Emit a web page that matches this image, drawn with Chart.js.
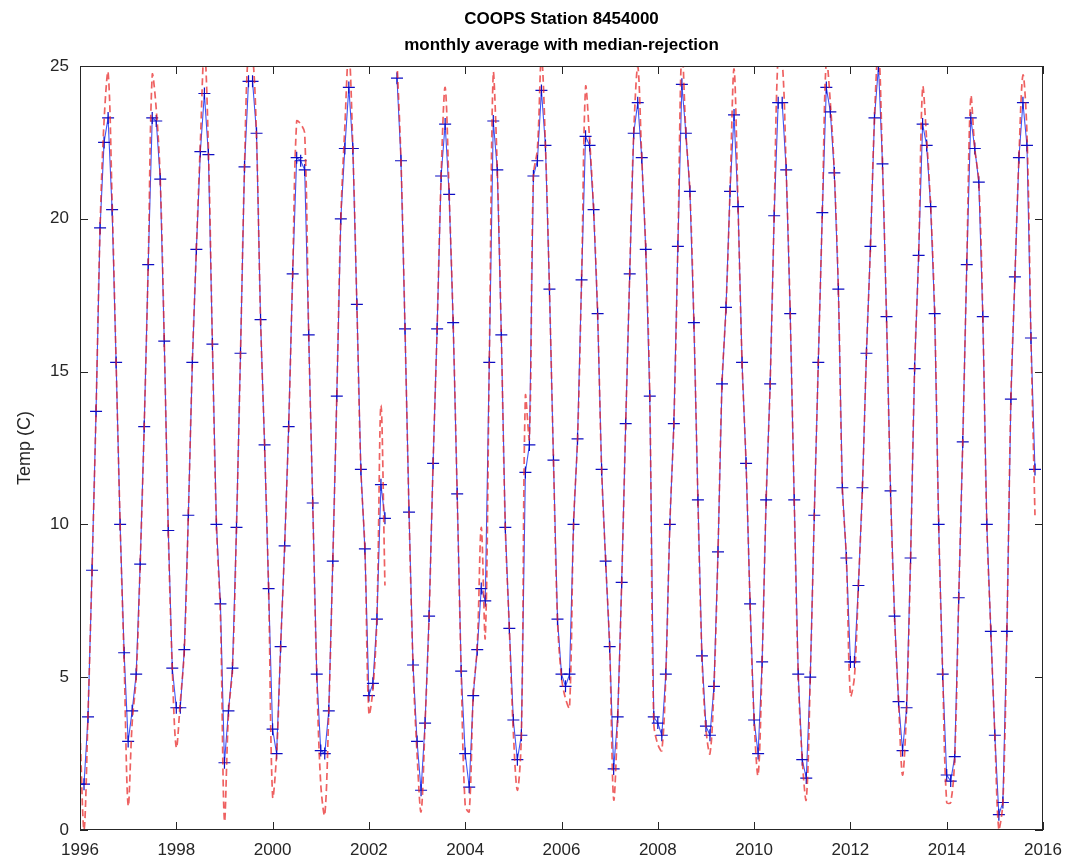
<!DOCTYPE html>
<html>
<head>
<meta charset="utf-8">
<script src="https://cdn.jsdelivr.net/npm/chart.js@4/dist/chart.umd.min.js"></script>
<style>
  html, body { margin: 0; padding: 0; background: #fff; }
  #wrap { width: 1072px; height: 865px; }
</style>
</head>
<body>
<div id="wrap"><canvas id="tempChart" width="1072" height="865"></canvas></div>
<script>
const startYear = 1996;
const yearTicks = [1996, 1998, 2000, 2002, 2004, 2006, 2008, 2010, 2012, 2014, 2016];
const tempTicks = [0, 5, 10, 15, 20, 25];
const titleLines = ['COOPS Station 8454000', 'monthly average with median-rejection'];

// monthly means after median rejection, Jan 1996 .. Nov 2015 (one row per year)
const medianMonthly = [
  1.5, 1.5, 3.7, 8.5, 13.7, 19.7, 22.5, 23.3, 20.3, 15.3, 10.0, 5.8,
  2.9, 3.9, 5.1, 8.7, 13.2, 18.5, 23.3, 23.2, 21.3, 16.0, 9.8, 5.3,
  4.0, 4.0, 5.9, 10.3, 15.3, 19.0, 22.2, 24.1, 22.1, 15.9, 10.0, 7.4,
  2.2, 3.9, 5.3, 9.9, 15.6, 21.7, 24.5, 24.5, 22.8, 16.7, 12.6, 7.9,
  3.3, 2.5, 6.0, 9.3, 13.2, 18.2, 22.0, 21.9, 21.6, 16.2, 10.7, 5.1,
  2.6, 2.5, 3.9, 8.8, 14.2, 20.0, 22.3, 24.3, 22.3, 17.2, 11.8, 9.2,
  4.4, 4.8, 6.9, 11.3, 10.2, null, null, 24.6, 21.9, 16.4, 10.4, 5.4,
  2.9, 1.3, 3.5, 7.0, 12.0, 16.4, 21.4, 23.1, 20.8, 16.6, 11.0, 5.2,
  2.5, 1.4, 4.4, 5.9, 7.9, 7.5, 15.3, 23.2, 21.6, 16.2, 9.9, 6.6,
  3.6, 2.3, 3.1, 11.7, 12.6, 21.4, 21.9, 24.2, 22.4, 17.7, 12.1, 6.9,
  5.1, 4.7, 5.1, 10.0, 12.8, 18.0, 22.7, 22.4, 20.3, 16.9, 11.8, 8.8,
  6.0, 2.0, 3.7, 8.1, 13.3, 18.2, 22.8, 23.8, 22.0, 19.0, 14.2, 3.7,
  3.5, 3.1, 5.1, 10.0, 13.3, 19.1, 24.4, 22.8, 20.9, 16.6, 10.8, 5.7,
  3.4, 3.1, 4.7, 9.1, 14.6, 17.1, 20.9, 23.4, 20.4, 15.3, 12.0, 7.4,
  3.6, 2.5, 5.5, 10.8, 14.6, 20.1, 23.8, 23.8, 21.6, 16.9, 10.8, 5.1,
  2.3, 1.7, 5.0, 10.3, 15.3, 20.2, 24.3, 23.5, 21.5, 17.7, 11.2, 8.9,
  5.5, 5.5, 8.0, 11.2, 15.6, 19.1, 23.3, 25.0, 21.8, 16.8, 11.1, 7.0,
  4.2, 2.6, 4.0, 8.9, 15.1, 18.8, 23.1, 22.4, 20.4, 16.9, 10.0, 5.1,
  1.8, 1.6, 2.4, 7.6, 12.7, 18.5, 23.3, 22.3, 21.2, 16.8, 10.0, 6.5,
  3.1, 0.5, 0.9, 6.5, 14.1, 18.1, 22.0, 23.8, 22.4, 16.1, 11.8
];

// plain monthly means, no rejection (drawn as the dashed curve)
const plainMonthly = [
  3.2, 0.0, 3.8, 8.5, 13.7, 19.7, 23.2, 24.8, 20.6, 15.3, 10.0, 5.5,
  0.8, 3.5, 5.0, 8.7, 13.2, 18.5, 24.7, 23.6, 21.3, 16.0, 9.8, 5.3,
  2.7, 4.2, 5.9, 10.3, 15.3, 19.0, 22.5, 25.6, 22.3, 15.9, 10.0, 7.0,
  0.3, 3.8, 5.3, 9.9, 15.6, 21.7, 25.6, 25.4, 22.6, 16.7, 12.6, 7.9,
  1.1, 2.5, 6.0, 9.3, 13.2, 18.2, 23.2, 23.1, 22.8, 16.2, 10.7, 5.1,
  1.5, 0.5, 3.9, 8.8, 14.2, 20.0, 23.0, 25.5, 22.3, 17.2, 11.8, 9.2,
  3.8, 4.6, 7.0, 13.9, 8.0, null, null, 25.2, 21.9, 16.4, 10.4, 5.4,
  2.5, 0.6, 3.5, 7.0, 12.0, 16.4, 21.4, 24.3, 20.8, 16.6, 11.0, 5.2,
  0.8, 0.6, 4.4, 6.0, 9.9, 6.3, 15.3, 24.8, 21.6, 16.2, 9.9, 6.6,
  3.2, 1.3, 3.1, 14.2, 12.8, 21.4, 22.3, 25.3, 22.4, 17.7, 12.1, 6.9,
  5.0, 4.3, 4.0, 10.0, 12.8, 18.0, 24.3, 22.6, 20.3, 16.9, 11.8, 8.8,
  6.0, 1.0, 3.7, 8.1, 13.3, 18.2, 22.8, 25.0, 22.0, 19.0, 14.2, 3.5,
  2.8, 2.6, 5.1, 10.0, 13.3, 19.1, 25.6, 22.8, 20.9, 16.6, 10.8, 5.7,
  3.3, 2.5, 4.7, 9.1, 14.6, 17.1, 20.9, 24.9, 20.4, 15.3, 12.0, 7.4,
  3.6, 1.8, 5.5, 10.8, 14.6, 20.1, 25.4, 25.2, 21.6, 16.9, 10.8, 5.1,
  2.3, 1.0, 5.0, 10.3, 15.3, 20.2, 25.2, 23.8, 21.5, 17.7, 11.2, 8.9,
  4.4, 5.0, 8.0, 11.2, 15.6, 19.1, 23.3, 25.6, 21.8, 16.8, 11.1, 7.0,
  4.2, 1.8, 4.0, 8.9, 15.1, 18.8, 24.3, 22.6, 20.4, 16.9, 10.0, 5.1,
  0.9, 0.9, 2.4, 7.6, 12.7, 18.5, 24.0, 22.3, 21.2, 16.8, 10.0, 6.5,
  3.1, 0.0, 0.9, 6.5, 14.1, 18.1, 22.0, 24.7, 22.8, 16.1, 10.3
];

const fontFamily = "'Liberation Sans', Arial, Helvetica, sans-serif";
const axisColor = '#262626';

// month index -> decimal year
function toPoints(vals) {
  return vals.map((v, i) => ({ x: startYear + i / 12, y: v }));
}

// box round the axes, inward tick marks on all four sides, title over the plot
const axesBox = {
  id: 'axesBox',
  afterDraw(chart) {
    const ctx = chart.ctx;
    const a = chart.chartArea;
    const xs = chart.scales.x;
    const ys = chart.scales.y;
    const len = 8;

    ctx.save();
    ctx.strokeStyle = axisColor;
    ctx.lineWidth = 1;
    ctx.beginPath();
    yearTicks.forEach(function (v) {
      const px = Math.round(xs.getPixelForValue(v)) + 0.5;
      ctx.moveTo(px, a.bottom); ctx.lineTo(px, a.bottom - len);
      ctx.moveTo(px, a.top); ctx.lineTo(px, a.top + len);
    });
    tempTicks.forEach(function (v) {
      const py = Math.round(ys.getPixelForValue(v)) + 0.5;
      ctx.moveTo(a.left, py); ctx.lineTo(a.left + len, py);
      ctx.moveTo(a.right, py); ctx.lineTo(a.right - len, py);
    });
    ctx.stroke();
    ctx.strokeRect(Math.round(a.left) + 0.5, Math.round(a.top) + 0.5,
                   Math.round(a.width) - 1, Math.round(a.height) - 1);

    ctx.fillStyle = '#000';
    ctx.font = 'bold 17px ' + fontFamily;
    ctx.textAlign = 'center';
    ctx.textBaseline = 'middle';
    const cx = (a.left + a.right) / 2;
    ctx.fillText(titleLines[0], cx, 19);
    ctx.fillText(titleLines[1], cx, 45);
    ctx.restore();
  }
};

const ctx = document.getElementById('tempChart');

new Chart(ctx, {
  type: 'line',
  data: {
    datasets: [
      {
        label: 'plain',
        data: toPoints(plainMonthly),
        borderColor: 'rgba(232, 36, 36, 0.72)',
        borderWidth: 1.7,
        borderDash: [7, 4],
        pointRadius: 0,
        tension: 0.35,
        spanGaps: false
      },
      {
        label: 'median-rejection',
        data: toPoints(medianMonthly),
        borderColor: '#3f55f5',
        borderWidth: 1.1,
        pointStyle: 'cross',
        pointRadius: 6,
        pointBorderColor: '#0c0cc4',
        pointBorderWidth: 1.2,
        tension: 0,
        spanGaps: false
      }
    ]
  },
  options: {
    responsive: false,
    animation: false,
    devicePixelRatio: 1,
    layout: {
      padding: { top: 66, right: 29, left: 0, bottom: 0 }
    },
    plugins: {
      legend: { display: false },
      tooltip: { enabled: false }
    },
    scales: {
      x: {
        type: 'linear',
        min: 1996,
        max: 2016,
        afterBuildTicks: function (scale) {
          scale.ticks = yearTicks.map(v => ({ value: v }));
        },
        afterFit: function (scale) {
          scale.height = 35;
        },
        ticks: {
          autoSkip: false,
          maxRotation: 0,
          padding: 10,
          color: axisColor,
          font: { family: fontFamily, size: 17 },
          callback: v => String(v)
        },
        grid: { display: false, drawTicks: false },
        border: { display: false }
      },
      y: {
        min: 0,
        max: 25,
        afterBuildTicks: function (scale) {
          scale.ticks = tempTicks.map(v => ({ value: v }));
        },
        afterFit: function (scale) {
          scale.width = 80;
        },
        ticks: {
          padding: 11,
          color: axisColor,
          font: { family: fontFamily, size: 17 }
        },
        grid: { display: false, drawTicks: false },
        border: { display: false },
        title: {
          display: true,
          text: 'Temp (C)',
          color: axisColor,
          font: { family: fontFamily, size: 18 },
          padding: { top: 14, bottom: 0 }
        }
      }
    }
  },
  plugins: [axesBox]
});
</script>
</body>
</html>
